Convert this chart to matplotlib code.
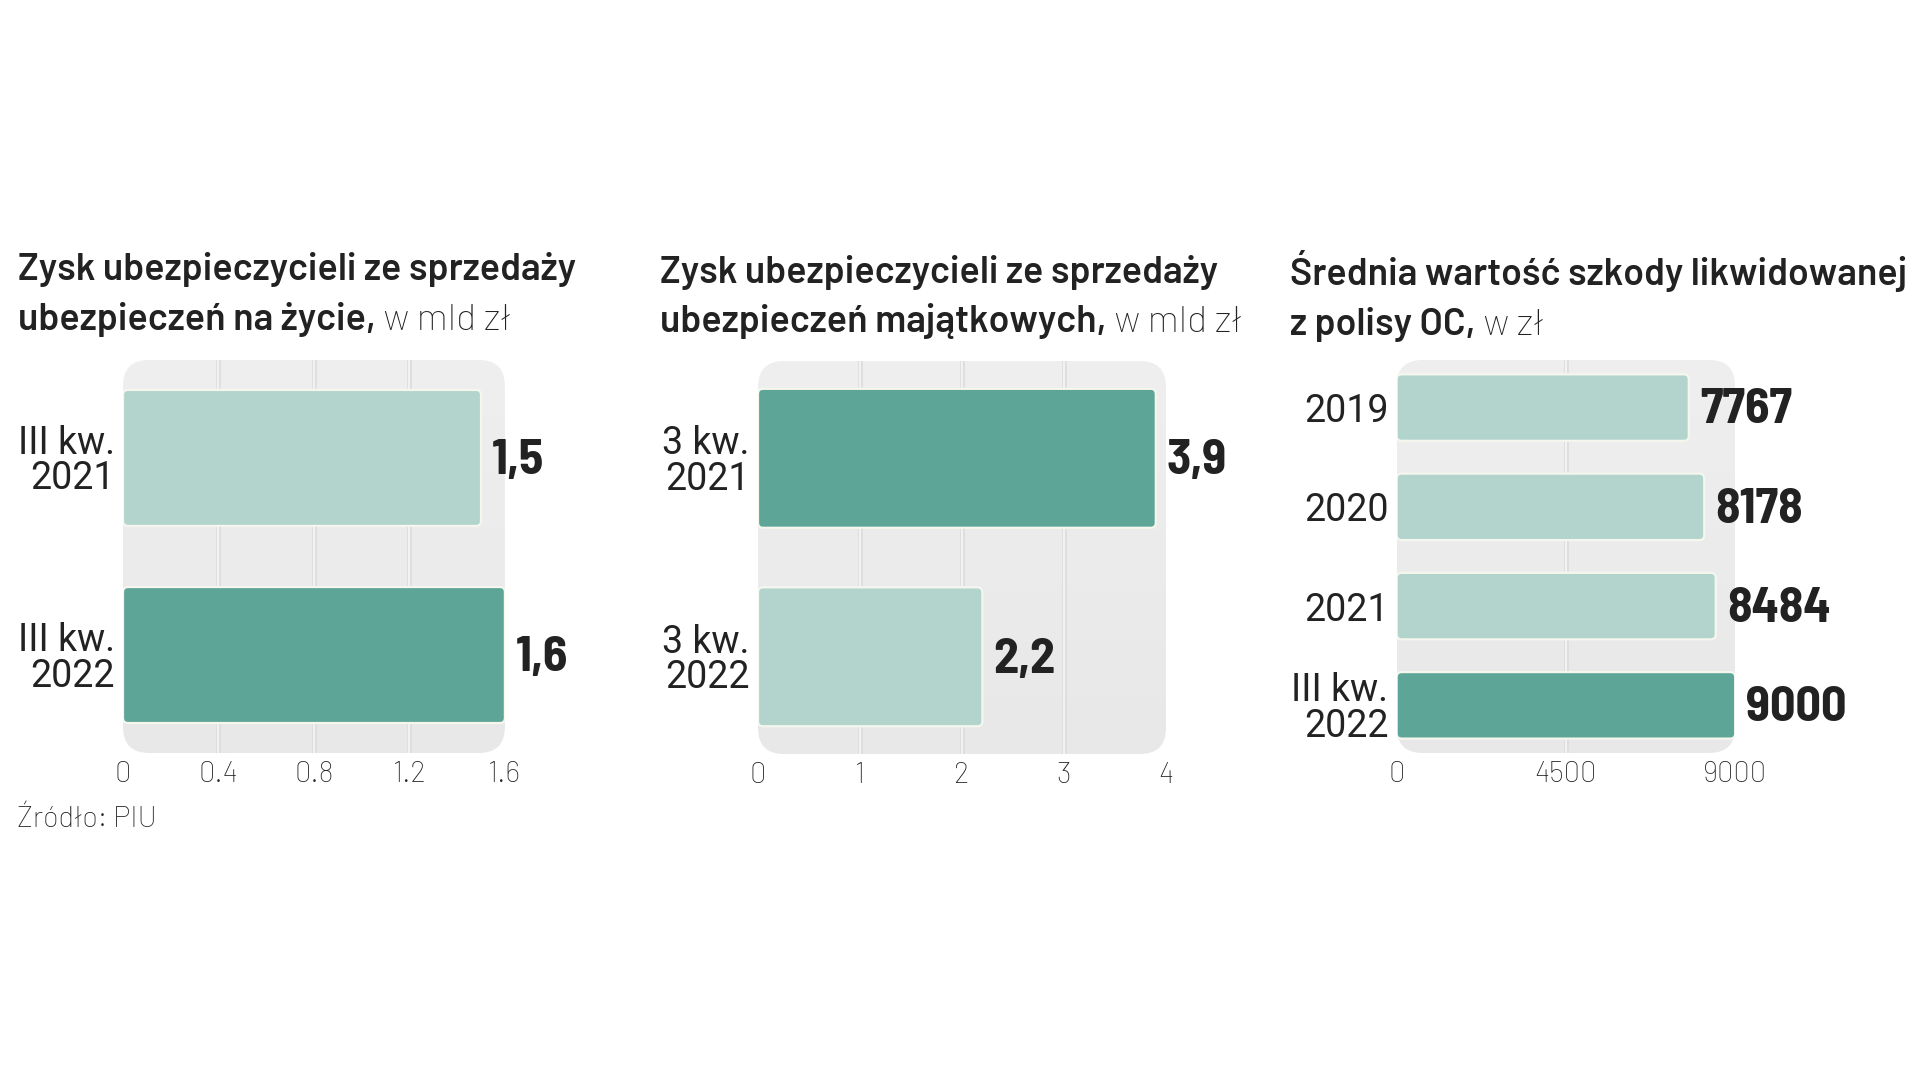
import matplotlib
matplotlib.use("Agg")
import matplotlib.pyplot as plt
import numpy as np
from matplotlib import font_manager
from matplotlib.patches import FancyBboxPatch

# ---- data ----
life_labels = ["III kw.\n2021", "III kw.\n2022"]
life_values = [1.5, 1.6]
life_ticks = [0, 0.4, 0.8, 1.2, 1.6]
life_ticklabels = ["0", "0.4", "0.8", "1.2", "1.6"]

prop_labels = ["3 kw.\n2021", "3 kw.\n2022"]
prop_values = [3.9, 2.2]
prop_ticks = [0, 1, 2, 3, 4]
prop_ticklabels = ["0", "1", "2", "3", "4"]

oc_labels = ["2019", "2020", "2021", "III kw.\n2022"]
oc_values = [7767, 8178, 8484, 9000]
oc_ticks = [0, 4500, 9000]
oc_ticklabels = ["0", "4500", "9000"]

titles = [
    ("Zysk ubezpieczycieli ze sprzedaży", "ubezpieczeń na życie,", " w mld zł"),
    ("Zysk ubezpieczycieli ze sprzedaży", "ubezpieczeń majątkowych,", " w mld zł"),
    ("Średnia wartość szkody likwidowanej", "z polisy OC,", " w zł"),
]
source = "Źródło: PIU"

# ---- fonts: take the first family that is installed ----
avail = {f.name for f in font_manager.fontManager.ttflist}


def pick(*names):
    return [n for n in names if n in avail][:1] + ["DejaVu Sans"]


F_TITLE = pick("Barlow", "IBM Plex Sans Condensed")
F_VALUE = pick("Barlow Semi Condensed", "Barlow Condensed", "IBM Plex Sans Condensed")
F_LABEL = pick("Roboto", "Barlow")
F_TEXT = pick("Barlow", "IBM Plex Sans")

INK = "#222222"
LIGHT = "#b3d4cd"
DARK = "#5da597"

W, H = 1919, 1080
fig = plt.figure(figsize=(W / 100, H / 100), dpi=100)
fig.patch.set_facecolor("white")


def panel(rect, labels, values, ticks, ticklabels, xmax, span, bar_h, fmt):
    ax = fig.add_axes(rect)
    n = len(values)
    ylim = (n - 1 + span, -span)

    bb = ax.get_window_extent()
    # rounded grey background with a soft vertical gradient
    bg = FancyBboxPatch((0, 0), 1, 1, boxstyle="round,pad=0,rounding_size=%f" % (26 / bb.width),
                        mutation_aspect=bb.width / bb.height, transform=ax.transAxes,
                        facecolor="none", edgecolor="none", zorder=0)
    ax.add_patch(bg)
    grad = np.linspace(0, 1, 256).reshape(-1, 1)
    im = ax.imshow(grad, extent=(0, 1, 0, 1), transform=ax.transAxes, aspect="auto",
                   cmap=matplotlib.colors.LinearSegmentedColormap.from_list("g", ["#e8e8e8", "#efefef"]),
                   origin="lower", zorder=0)
    im.set_clip_path(bg)

    for t in ticks[1:-1]:
        ax.axvline(t, color="#dedede", lw=3.5, zorder=1)
        ax.axvline(t, color="#f2f2f2", lw=1.5, zorder=1)

    colors = [DARK if v == max(values) else LIGHT for v in values]
    bars = ax.barh(range(n), values, height=bar_h, color=colors)
    ax.set_xlim(0, xmax)
    ax.set_ylim(*ylim)

    xpp = xmax / bb.width
    ypp = (ylim[0] - ylim[1]) / bb.height
    for rect_, c in zip(bars, colors):
        x0, y0 = rect_.get_xy()
        rect_.set_visible(False)
        ax.add_patch(FancyBboxPatch((x0, y0), rect_.get_width(), rect_.get_height(),
                                    boxstyle="round,pad=0,rounding_size=%f" % (5 * xpp),
                                    mutation_aspect=ypp / xpp, facecolor=c,
                                    edgecolor="#f5f7ee", lw=1.6, zorder=3))

    for i, v in enumerate(values):
        ax.annotate(fmt(v), (v, i), xytext=(8, -2), textcoords="offset points",
                    ha="left", va="center", fontsize=36, fontweight="bold",
                    family=F_VALUE, color=INK, annotation_clip=False)

    ax.set_xticks(ticks)
    ax.set_xticklabels(ticklabels, family=F_TEXT, fontsize=21, fontweight="light", color=INK)
    ax.set_yticks(range(n))
    ax.set_yticklabels(labels, family=F_LABEL, fontsize=27, color=INK, linespacing=0.95)
    ax.tick_params(axis="x", length=0, pad=6)
    ax.tick_params(axis="y", length=0, pad=6)
    for s in ax.spines.values():
        s.set_visible(False)
    ax.set_facecolor("none")
    return ax


comma = lambda v: ("%.1f" % v).replace(".", ",")
panel([0.0641, 0.3028, 0.1990, 0.3639], life_labels, life_values, life_ticks,
      life_ticklabels, 1.6, 0.497, 0.69, comma)
panel([0.3950, 0.3018, 0.2126, 0.3639], prop_labels, prop_values, prop_ticks,
      prop_ticklabels, 4, 0.49, 0.70, comma)
panel([0.7278, 0.3028, 0.1764, 0.3639], oc_labels, oc_values, oc_ticks,
      oc_ticklabels, 9000, 0.48, 0.67, lambda v: "%d" % v)

# ---- titles ----
renderer = fig.canvas.get_renderer()
title_pos = [(18, 280, 330), (660, 283, 332), (1290, 285, 335)]
for (l1, l2b, l2r), (x, b1, b2) in zip(titles, title_pos):
    fig.text(x / W, 1 - b1 / H, l1, family=F_TITLE, fontweight="semibold", fontsize=27,
             color=INK, va="baseline")
    t = fig.text(x / W, 1 - b2 / H, l2b, family=F_TITLE, fontweight="semibold", fontsize=27,
                 color=INK, va="baseline")
    x1 = t.get_window_extent(renderer).x1
    fig.text(x1 / W, 1 - b2 / H, l2r, family=F_TITLE, fontweight="light", fontsize=27,
             color=INK, va="baseline")

fig.text(17 / W, 1 - 827 / H, source, family=F_TEXT, fontsize=21, fontweight="light",
         color=INK, va="baseline")

fig.savefig("out.png", dpi=100)
